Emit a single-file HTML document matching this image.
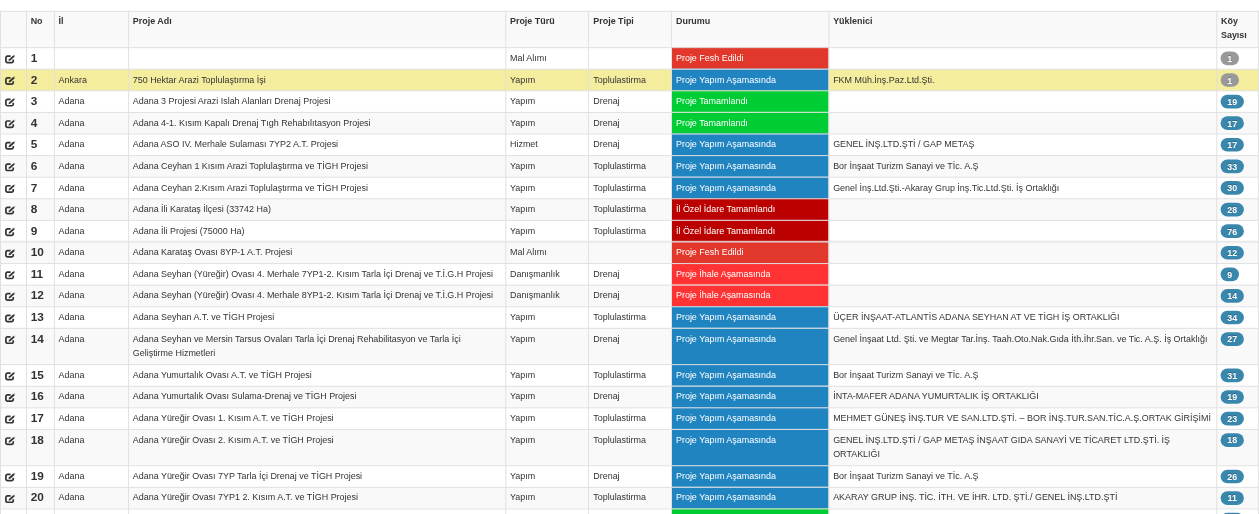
<!DOCTYPE html><html lang="tr"><head><meta charset="utf-8"><title>Projeler</title><style>
html,body{margin:0;padding:0;background:#fff;}
body{font-family:"Liberation Sans",Arial,Helvetica,sans-serif;font-size:8.95px;line-height:14.72px;color:#333;overflow:hidden;width:1259px;height:514px;position:relative;}
svg.grid{position:absolute;left:0;top:0;display:block;}
table{position:absolute;left:0;top:10.830px;width:1257.910px;border-collapse:separate;border-spacing:0;table-layout:fixed;}
td,th{box-sizing:border-box;padding:3.9px 0 0 4.7px;vertical-align:top;text-align:left;white-space:nowrap;overflow:hidden;font-weight:normal;}
th{font-weight:bold;padding-top:2.9px;line-height:14.72px;}
td.no{font-size:11.8px;font-weight:bold;padding-top:3.9px;}
td.e{padding:0;}
td:nth-child(6),th:nth-child(6){padding-left:5.4px;}
td:nth-child(7),th:nth-child(7){padding-left:5.1px;}
td.st{color:#fff;}
.bd{display:block;color:#fff;font-weight:bold;font-size:8.88px;line-height:10.5px;text-align:center;width:18.4px;margin:2.9px 0 0 -0.4px;text-shadow:0 -0.75px 0 rgba(0,0,0,.25);}
.bd.w{width:23.3px;}
.ic{display:block;margin:7.5px 0 0 4.6px;}
</style></head><body>
<svg class="grid" width="1259" height="514" viewBox="0 0 1259 514">
<rect x="0" y="10.830" width="1258.890" height="36.316" fill="#f9f9f9"/>
<rect x="671.890" y="47.145" width="156.560" height="21.593" fill="#e2382b"/>
<rect x="0" y="69.239" width="1258.890" height="21.593" fill="#f5ed9e"/>
<rect x="671.890" y="68.739" width="156.560" height="21.593" fill="#2084c1"/>
<rect x="671.890" y="90.332" width="156.560" height="21.593" fill="#00cc33"/>
<rect x="0" y="111.925" width="1258.890" height="21.593" fill="#f9f9f9"/>
<rect x="671.890" y="111.925" width="156.560" height="21.593" fill="#00cc33"/>
<rect x="671.890" y="133.518" width="156.560" height="21.593" fill="#2084c1"/>
<rect x="0" y="155.111" width="1258.890" height="21.593" fill="#f9f9f9"/>
<rect x="671.890" y="155.111" width="156.560" height="21.593" fill="#2084c1"/>
<rect x="671.890" y="176.704" width="156.560" height="21.593" fill="#2084c1"/>
<rect x="0" y="198.297" width="1258.890" height="21.593" fill="#f9f9f9"/>
<rect x="671.890" y="198.297" width="156.560" height="21.593" fill="#bb0000"/>
<rect x="671.890" y="219.890" width="156.560" height="21.593" fill="#bb0000"/>
<rect x="0" y="241.483" width="1258.890" height="21.593" fill="#f9f9f9"/>
<rect x="671.890" y="241.483" width="156.560" height="21.593" fill="#e2382b"/>
<rect x="671.890" y="263.076" width="156.560" height="21.593" fill="#ff3333"/>
<rect x="0" y="284.668" width="1258.890" height="21.593" fill="#f9f9f9"/>
<rect x="671.890" y="284.668" width="156.560" height="21.593" fill="#ff3333"/>
<rect x="671.890" y="306.262" width="156.560" height="21.593" fill="#2084c1"/>
<rect x="0" y="327.854" width="1258.890" height="36.316" fill="#f9f9f9"/>
<rect x="671.890" y="327.854" width="156.560" height="36.316" fill="#2084c1"/>
<rect x="671.890" y="364.170" width="156.560" height="21.593" fill="#2084c1"/>
<rect x="0" y="385.763" width="1258.890" height="21.593" fill="#f9f9f9"/>
<rect x="671.890" y="385.763" width="156.560" height="21.593" fill="#2084c1"/>
<rect x="671.890" y="407.356" width="156.560" height="21.593" fill="#2084c1"/>
<rect x="0" y="428.949" width="1258.890" height="36.315" fill="#f9f9f9"/>
<rect x="671.890" y="428.949" width="156.560" height="36.315" fill="#2084c1"/>
<rect x="671.890" y="465.264" width="156.560" height="21.593" fill="#2084c1"/>
<rect x="0" y="486.858" width="1258.890" height="21.593" fill="#f9f9f9"/>
<rect x="671.890" y="486.858" width="156.560" height="21.593" fill="#2084c1"/>
<rect x="671.890" y="508.450" width="156.560" height="21.593" fill="#00cc33"/>
<rect x="1220.6" y="51.545" width="18.40" height="13.7" rx="6.85" fill="#999"/>
<rect x="1220.6" y="73.139" width="18.40" height="13.7" rx="6.85" fill="#999"/>
<rect x="1220.6" y="94.732" width="23.30" height="13.7" rx="6.85" fill="#3a87ad"/>
<rect x="1220.6" y="116.325" width="23.30" height="13.7" rx="6.85" fill="#3a87ad"/>
<rect x="1220.6" y="137.918" width="23.30" height="13.7" rx="6.85" fill="#3a87ad"/>
<rect x="1220.6" y="159.511" width="23.30" height="13.7" rx="6.85" fill="#3a87ad"/>
<rect x="1220.6" y="181.104" width="23.30" height="13.7" rx="6.85" fill="#3a87ad"/>
<rect x="1220.6" y="202.697" width="23.30" height="13.7" rx="6.85" fill="#3a87ad"/>
<rect x="1220.6" y="224.290" width="23.30" height="13.7" rx="6.85" fill="#3a87ad"/>
<rect x="1220.6" y="245.883" width="23.30" height="13.7" rx="6.85" fill="#3a87ad"/>
<rect x="1220.6" y="267.476" width="18.40" height="13.7" rx="6.85" fill="#3a87ad"/>
<rect x="1220.6" y="289.068" width="23.30" height="13.7" rx="6.85" fill="#3a87ad"/>
<rect x="1220.6" y="310.661" width="23.30" height="13.7" rx="6.85" fill="#3a87ad"/>
<rect x="1220.6" y="332.254" width="23.30" height="13.7" rx="6.85" fill="#3a87ad"/>
<rect x="1220.6" y="368.570" width="23.30" height="13.7" rx="6.85" fill="#3a87ad"/>
<rect x="1220.6" y="390.163" width="23.30" height="13.7" rx="6.85" fill="#3a87ad"/>
<rect x="1220.6" y="411.756" width="23.30" height="13.7" rx="6.85" fill="#3a87ad"/>
<rect x="1220.6" y="433.349" width="23.30" height="13.7" rx="6.85" fill="#3a87ad"/>
<rect x="1220.6" y="469.664" width="23.30" height="13.7" rx="6.85" fill="#3a87ad"/>
<rect x="1220.6" y="491.257" width="23.30" height="13.7" rx="6.85" fill="#3a87ad"/>
<rect x="1220.6" y="512.851" width="23.30" height="13.7" rx="6.85" fill="#3a87ad"/>
<g transform="translate(4.6 54.745)"><path d="M8.65 4.8V6.2a1.6 1.6 0 0 1-1.6 1.6H2.9a1.6 1.6 0 0 1-1.6-1.6V3.05a1.6 1.6 0 0 1 1.6-1.6H6" fill="none" stroke="#333" stroke-width="1.7"/><path d="M3.95 6.2l.4-1.7 4.5-4 .65.6.65.7-4.5 4z" fill="#333"/><path d="M9.35 .3l.6-.35 .8.85-.35.55z" fill="#333" opacity=".55"/></g>
<g transform="translate(4.6 76.338)"><path d="M8.65 4.8V6.2a1.6 1.6 0 0 1-1.6 1.6H2.9a1.6 1.6 0 0 1-1.6-1.6V3.05a1.6 1.6 0 0 1 1.6-1.6H6" fill="none" stroke="#333" stroke-width="1.7"/><path d="M3.95 6.2l.4-1.7 4.5-4 .65.6.65.7-4.5 4z" fill="#333"/><path d="M9.35 .3l.6-.35 .8.85-.35.55z" fill="#333" opacity=".55"/></g>
<g transform="translate(4.6 97.931)"><path d="M8.65 4.8V6.2a1.6 1.6 0 0 1-1.6 1.6H2.9a1.6 1.6 0 0 1-1.6-1.6V3.05a1.6 1.6 0 0 1 1.6-1.6H6" fill="none" stroke="#333" stroke-width="1.7"/><path d="M3.95 6.2l.4-1.7 4.5-4 .65.6.65.7-4.5 4z" fill="#333"/><path d="M9.35 .3l.6-.35 .8.85-.35.55z" fill="#333" opacity=".55"/></g>
<g transform="translate(4.6 119.525)"><path d="M8.65 4.8V6.2a1.6 1.6 0 0 1-1.6 1.6H2.9a1.6 1.6 0 0 1-1.6-1.6V3.05a1.6 1.6 0 0 1 1.6-1.6H6" fill="none" stroke="#333" stroke-width="1.7"/><path d="M3.95 6.2l.4-1.7 4.5-4 .65.6.65.7-4.5 4z" fill="#333"/><path d="M9.35 .3l.6-.35 .8.85-.35.55z" fill="#333" opacity=".55"/></g>
<g transform="translate(4.6 141.118)"><path d="M8.65 4.8V6.2a1.6 1.6 0 0 1-1.6 1.6H2.9a1.6 1.6 0 0 1-1.6-1.6V3.05a1.6 1.6 0 0 1 1.6-1.6H6" fill="none" stroke="#333" stroke-width="1.7"/><path d="M3.95 6.2l.4-1.7 4.5-4 .65.6.65.7-4.5 4z" fill="#333"/><path d="M9.35 .3l.6-.35 .8.85-.35.55z" fill="#333" opacity=".55"/></g>
<g transform="translate(4.6 162.711)"><path d="M8.65 4.8V6.2a1.6 1.6 0 0 1-1.6 1.6H2.9a1.6 1.6 0 0 1-1.6-1.6V3.05a1.6 1.6 0 0 1 1.6-1.6H6" fill="none" stroke="#333" stroke-width="1.7"/><path d="M3.95 6.2l.4-1.7 4.5-4 .65.6.65.7-4.5 4z" fill="#333"/><path d="M9.35 .3l.6-.35 .8.85-.35.55z" fill="#333" opacity=".55"/></g>
<g transform="translate(4.6 184.304)"><path d="M8.65 4.8V6.2a1.6 1.6 0 0 1-1.6 1.6H2.9a1.6 1.6 0 0 1-1.6-1.6V3.05a1.6 1.6 0 0 1 1.6-1.6H6" fill="none" stroke="#333" stroke-width="1.7"/><path d="M3.95 6.2l.4-1.7 4.5-4 .65.6.65.7-4.5 4z" fill="#333"/><path d="M9.35 .3l.6-.35 .8.85-.35.55z" fill="#333" opacity=".55"/></g>
<g transform="translate(4.6 205.897)"><path d="M8.65 4.8V6.2a1.6 1.6 0 0 1-1.6 1.6H2.9a1.6 1.6 0 0 1-1.6-1.6V3.05a1.6 1.6 0 0 1 1.6-1.6H6" fill="none" stroke="#333" stroke-width="1.7"/><path d="M3.95 6.2l.4-1.7 4.5-4 .65.6.65.7-4.5 4z" fill="#333"/><path d="M9.35 .3l.6-.35 .8.85-.35.55z" fill="#333" opacity=".55"/></g>
<g transform="translate(4.6 227.490)"><path d="M8.65 4.8V6.2a1.6 1.6 0 0 1-1.6 1.6H2.9a1.6 1.6 0 0 1-1.6-1.6V3.05a1.6 1.6 0 0 1 1.6-1.6H6" fill="none" stroke="#333" stroke-width="1.7"/><path d="M3.95 6.2l.4-1.7 4.5-4 .65.6.65.7-4.5 4z" fill="#333"/><path d="M9.35 .3l.6-.35 .8.85-.35.55z" fill="#333" opacity=".55"/></g>
<g transform="translate(4.6 249.083)"><path d="M8.65 4.8V6.2a1.6 1.6 0 0 1-1.6 1.6H2.9a1.6 1.6 0 0 1-1.6-1.6V3.05a1.6 1.6 0 0 1 1.6-1.6H6" fill="none" stroke="#333" stroke-width="1.7"/><path d="M3.95 6.2l.4-1.7 4.5-4 .65.6.65.7-4.5 4z" fill="#333"/><path d="M9.35 .3l.6-.35 .8.85-.35.55z" fill="#333" opacity=".55"/></g>
<g transform="translate(4.6 270.676)"><path d="M8.65 4.8V6.2a1.6 1.6 0 0 1-1.6 1.6H2.9a1.6 1.6 0 0 1-1.6-1.6V3.05a1.6 1.6 0 0 1 1.6-1.6H6" fill="none" stroke="#333" stroke-width="1.7"/><path d="M3.95 6.2l.4-1.7 4.5-4 .65.6.65.7-4.5 4z" fill="#333"/><path d="M9.35 .3l.6-.35 .8.85-.35.55z" fill="#333" opacity=".55"/></g>
<g transform="translate(4.6 292.269)"><path d="M8.65 4.8V6.2a1.6 1.6 0 0 1-1.6 1.6H2.9a1.6 1.6 0 0 1-1.6-1.6V3.05a1.6 1.6 0 0 1 1.6-1.6H6" fill="none" stroke="#333" stroke-width="1.7"/><path d="M3.95 6.2l.4-1.7 4.5-4 .65.6.65.7-4.5 4z" fill="#333"/><path d="M9.35 .3l.6-.35 .8.85-.35.55z" fill="#333" opacity=".55"/></g>
<g transform="translate(4.6 313.862)"><path d="M8.65 4.8V6.2a1.6 1.6 0 0 1-1.6 1.6H2.9a1.6 1.6 0 0 1-1.6-1.6V3.05a1.6 1.6 0 0 1 1.6-1.6H6" fill="none" stroke="#333" stroke-width="1.7"/><path d="M3.95 6.2l.4-1.7 4.5-4 .65.6.65.7-4.5 4z" fill="#333"/><path d="M9.35 .3l.6-.35 .8.85-.35.55z" fill="#333" opacity=".55"/></g>
<g transform="translate(4.6 335.454)"><path d="M8.65 4.8V6.2a1.6 1.6 0 0 1-1.6 1.6H2.9a1.6 1.6 0 0 1-1.6-1.6V3.05a1.6 1.6 0 0 1 1.6-1.6H6" fill="none" stroke="#333" stroke-width="1.7"/><path d="M3.95 6.2l.4-1.7 4.5-4 .65.6.65.7-4.5 4z" fill="#333"/><path d="M9.35 .3l.6-.35 .8.85-.35.55z" fill="#333" opacity=".55"/></g>
<g transform="translate(4.6 371.770)"><path d="M8.65 4.8V6.2a1.6 1.6 0 0 1-1.6 1.6H2.9a1.6 1.6 0 0 1-1.6-1.6V3.05a1.6 1.6 0 0 1 1.6-1.6H6" fill="none" stroke="#333" stroke-width="1.7"/><path d="M3.95 6.2l.4-1.7 4.5-4 .65.6.65.7-4.5 4z" fill="#333"/><path d="M9.35 .3l.6-.35 .8.85-.35.55z" fill="#333" opacity=".55"/></g>
<g transform="translate(4.6 393.363)"><path d="M8.65 4.8V6.2a1.6 1.6 0 0 1-1.6 1.6H2.9a1.6 1.6 0 0 1-1.6-1.6V3.05a1.6 1.6 0 0 1 1.6-1.6H6" fill="none" stroke="#333" stroke-width="1.7"/><path d="M3.95 6.2l.4-1.7 4.5-4 .65.6.65.7-4.5 4z" fill="#333"/><path d="M9.35 .3l.6-.35 .8.85-.35.55z" fill="#333" opacity=".55"/></g>
<g transform="translate(4.6 414.956)"><path d="M8.65 4.8V6.2a1.6 1.6 0 0 1-1.6 1.6H2.9a1.6 1.6 0 0 1-1.6-1.6V3.05a1.6 1.6 0 0 1 1.6-1.6H6" fill="none" stroke="#333" stroke-width="1.7"/><path d="M3.95 6.2l.4-1.7 4.5-4 .65.6.65.7-4.5 4z" fill="#333"/><path d="M9.35 .3l.6-.35 .8.85-.35.55z" fill="#333" opacity=".55"/></g>
<g transform="translate(4.6 436.549)"><path d="M8.65 4.8V6.2a1.6 1.6 0 0 1-1.6 1.6H2.9a1.6 1.6 0 0 1-1.6-1.6V3.05a1.6 1.6 0 0 1 1.6-1.6H6" fill="none" stroke="#333" stroke-width="1.7"/><path d="M3.95 6.2l.4-1.7 4.5-4 .65.6.65.7-4.5 4z" fill="#333"/><path d="M9.35 .3l.6-.35 .8.85-.35.55z" fill="#333" opacity=".55"/></g>
<g transform="translate(4.6 472.865)"><path d="M8.65 4.8V6.2a1.6 1.6 0 0 1-1.6 1.6H2.9a1.6 1.6 0 0 1-1.6-1.6V3.05a1.6 1.6 0 0 1 1.6-1.6H6" fill="none" stroke="#333" stroke-width="1.7"/><path d="M3.95 6.2l.4-1.7 4.5-4 .65.6.65.7-4.5 4z" fill="#333"/><path d="M9.35 .3l.6-.35 .8.85-.35.55z" fill="#333" opacity=".55"/></g>
<g transform="translate(4.6 494.458)"><path d="M8.65 4.8V6.2a1.6 1.6 0 0 1-1.6 1.6H2.9a1.6 1.6 0 0 1-1.6-1.6V3.05a1.6 1.6 0 0 1 1.6-1.6H6" fill="none" stroke="#333" stroke-width="1.7"/><path d="M3.95 6.2l.4-1.7 4.5-4 .65.6.65.7-4.5 4z" fill="#333"/><path d="M9.35 .3l.6-.35 .8.85-.35.55z" fill="#333" opacity=".55"/></g>
<g transform="translate(4.6 516.050)"><path d="M8.65 4.8V6.2a1.6 1.6 0 0 1-1.6 1.6H2.9a1.6 1.6 0 0 1-1.6-1.6V3.05a1.6 1.6 0 0 1 1.6-1.6H6" fill="none" stroke="#333" stroke-width="1.7"/><path d="M3.95 6.2l.4-1.7 4.5-4 .65.6.65.7-4.5 4z" fill="#333"/><path d="M9.35 .3l.6-.35 .8.85-.35.55z" fill="#333" opacity=".55"/></g>
<rect x="0" y="240.783" width="1258.890" height="0.75" fill="#e0e0e0" opacity=".8"/>
<rect x="0" y="10.830" width="1258.890" height="0.98" fill="#e0e0e0"/>
<rect x="0" y="47.145" width="1258.890" height="0.98" fill="#e0e0e0"/>
<rect x="0" y="68.739" width="1258.890" height="0.98" fill="#e0e0e0"/>
<rect x="0" y="90.332" width="1258.890" height="0.98" fill="#e0e0e0"/>
<rect x="0" y="111.925" width="1258.890" height="0.98" fill="#e0e0e0"/>
<rect x="0" y="133.518" width="1258.890" height="0.98" fill="#e0e0e0"/>
<rect x="0" y="155.111" width="1258.890" height="0.98" fill="#e0e0e0"/>
<rect x="0" y="176.704" width="1258.890" height="0.98" fill="#e0e0e0"/>
<rect x="0" y="198.297" width="1258.890" height="0.98" fill="#e0e0e0"/>
<rect x="0" y="219.890" width="1258.890" height="0.98" fill="#e0e0e0"/>
<rect x="0" y="241.483" width="1258.890" height="0.98" fill="#e0e0e0"/>
<rect x="0" y="263.076" width="1258.890" height="0.98" fill="#e0e0e0"/>
<rect x="0" y="284.668" width="1258.890" height="0.98" fill="#e0e0e0"/>
<rect x="0" y="306.262" width="1258.890" height="0.98" fill="#e0e0e0"/>
<rect x="0" y="327.854" width="1258.890" height="0.98" fill="#e0e0e0"/>
<rect x="0" y="364.170" width="1258.890" height="0.98" fill="#e0e0e0"/>
<rect x="0" y="385.763" width="1258.890" height="0.98" fill="#e0e0e0"/>
<rect x="0" y="407.356" width="1258.890" height="0.98" fill="#e0e0e0"/>
<rect x="0" y="428.949" width="1258.890" height="0.98" fill="#e0e0e0"/>
<rect x="0" y="465.264" width="1258.890" height="0.98" fill="#e0e0e0"/>
<rect x="0" y="486.858" width="1258.890" height="0.98" fill="#e0e0e0"/>
<rect x="0" y="508.450" width="1258.890" height="0.98" fill="#e0e0e0"/>
<rect x="0.000" y="10.830" width="0.98" height="503.170" fill="#e0e0e0"/>
<rect x="25.980" y="10.830" width="1.00" height="503.170" fill="#e0e0e0"/>
<rect x="53.910" y="10.830" width="0.98" height="503.170" fill="#e0e0e0"/>
<rect x="128.110" y="10.830" width="0.98" height="503.170" fill="#e0e0e0"/>
<rect x="505.310" y="10.830" width="0.98" height="503.170" fill="#e0e0e0"/>
<rect x="587.910" y="10.830" width="0.98" height="503.170" fill="#e0e0e0"/>
<rect x="670.910" y="10.830" width="0.98" height="503.170" fill="#e0e0e0"/>
<rect x="828.510" y="10.830" width="0.98" height="503.170" fill="#e0e0e0"/>
<rect x="1216.310" y="10.830" width="0.98" height="503.170" fill="#e0e0e0"/>
<rect x="1257.910" y="10.830" width="0.98" height="503.170" fill="#e0e0e0"/>
</svg>
<table><colgroup>
<col style="width:25.980px">
<col style="width:27.930px">
<col style="width:74.200px">
<col style="width:377.200px">
<col style="width:82.600px">
<col style="width:83.000px">
<col style="width:157.600px">
<col style="width:387.800px">
<col style="width:41.600px">
</colgroup><thead><tr style="height:36.316px">
<th></th>
<th>No</th>
<th>İl</th>
<th>Proje Adı</th>
<th>Proje Türü</th>
<th>Proje Tipi</th>
<th>Durumu</th>
<th>Yüklenici</th>
<th>Köy<br>Sayısı</th>
</tr></thead><tbody>
<tr style="height:21.593px"><td class="e"></td><td class="no">1</td><td></td><td></td><td>Mal Alımı</td><td></td><td class="st">Proje Fesh Edildi</td><td></td><td><span class="bd ">1</span></td></tr>
<tr style="height:21.593px"><td class="e"></td><td class="no">2</td><td>Ankara</td><td>750 Hektar Arazi Toplulaştırma İşi</td><td>Yapım</td><td>Toplulastirma</td><td class="st">Proje Yapım Aşamasında</td><td>FKM Müh.İnş.Paz.Ltd.Şti.</td><td><span class="bd ">1</span></td></tr>
<tr style="height:21.593px"><td class="e"></td><td class="no">3</td><td>Adana</td><td>Adana 3 Projesi Arazi Islah Alanları Drenaj Projesi</td><td>Yapım</td><td>Drenaj</td><td class="st">Proje Tamamlandı</td><td></td><td><span class="bd w">19</span></td></tr>
<tr style="height:21.593px"><td class="e"></td><td class="no">4</td><td>Adana</td><td>Adana 4-1. Kısım Kapalı Drenaj Tıgh Rehabılıtasyon Projesi</td><td>Yapım</td><td>Drenaj</td><td class="st">Proje Tamamlandı</td><td></td><td><span class="bd w">17</span></td></tr>
<tr style="height:21.593px"><td class="e"></td><td class="no">5</td><td>Adana</td><td>Adana ASO IV. Merhale Sulaması 7YP2 A.T. Projesi</td><td>Hizmet</td><td>Drenaj</td><td class="st">Proje Yapım Aşamasında</td><td>GENEL İNŞ.LTD.ŞTİ / GAP METAŞ</td><td><span class="bd w">17</span></td></tr>
<tr style="height:21.593px"><td class="e"></td><td class="no">6</td><td>Adana</td><td>Adana Ceyhan 1 Kısım Arazi Toplulaştırma ve TİGH Projesi</td><td>Yapım</td><td>Toplulastirma</td><td class="st">Proje Yapım Aşamasında</td><td>Bor İnşaat Turizm Sanayi ve Tİc. A.Ş</td><td><span class="bd w">33</span></td></tr>
<tr style="height:21.593px"><td class="e"></td><td class="no">7</td><td>Adana</td><td>Adana Ceyhan 2.Kısım Arazi Toplulaştırma ve TİGH Projesi</td><td>Yapım</td><td>Toplulastirma</td><td class="st">Proje Yapım Aşamasında</td><td>Genel İnş.Ltd.Şti.-Akaray Grup İnş.Tic.Ltd.Şti. İş Ortaklığı</td><td><span class="bd w">30</span></td></tr>
<tr style="height:21.593px"><td class="e"></td><td class="no">8</td><td>Adana</td><td>Adana İli Karataş İlçesi (33742 Ha)</td><td>Yapım</td><td>Toplulastirma</td><td class="st">İl Özel İdare Tamamlandı</td><td></td><td><span class="bd w">28</span></td></tr>
<tr style="height:21.593px"><td class="e"></td><td class="no">9</td><td>Adana</td><td>Adana İli Projesi (75000 Ha)</td><td>Yapım</td><td>Toplulastirma</td><td class="st">İl Özel İdare Tamamlandı</td><td></td><td><span class="bd w">76</span></td></tr>
<tr style="height:21.593px"><td class="e"></td><td class="no">10</td><td>Adana</td><td>Adana Karataş Ovası 8YP-1 A.T. Projesi</td><td>Mal Alımı</td><td></td><td class="st">Proje Fesh Edildi</td><td></td><td><span class="bd w">12</span></td></tr>
<tr style="height:21.593px"><td class="e"></td><td class="no">11</td><td>Adana</td><td>Adana Seyhan (Yüreğir) Ovası 4. Merhale 7YP1-2. Kısım Tarla İçi Drenaj ve T.İ.G.H Projesi</td><td>Danışmanlık</td><td>Drenaj</td><td class="st">Proje İhale Aşamasında</td><td></td><td><span class="bd ">9</span></td></tr>
<tr style="height:21.593px"><td class="e"></td><td class="no">12</td><td>Adana</td><td>Adana Seyhan (Yüreğir) Ovası 4. Merhale 8YP1-2. Kısım Tarla İçi Drenaj ve T.İ.G.H Projesi</td><td>Danışmanlık</td><td>Drenaj</td><td class="st">Proje İhale Aşamasında</td><td></td><td><span class="bd w">14</span></td></tr>
<tr style="height:21.593px"><td class="e"></td><td class="no">13</td><td>Adana</td><td>Adana Seyhan A.T. ve TİGH Projesi</td><td>Yapım</td><td>Toplulastirma</td><td class="st">Proje Yapım Aşamasında</td><td>ÜÇER İNŞAAT-ATLANTİS ADANA SEYHAN AT VE TİGH İŞ ORTAKLIĞI</td><td><span class="bd w">34</span></td></tr>
<tr style="height:36.316px"><td class="e"></td><td class="no">14</td><td>Adana</td><td>Adana Seyhan ve Mersin Tarsus Ovaları Tarla İçi Drenaj Rehabilitasyon ve Tarla İçi<br>Geliştirme Hizmetleri</td><td>Yapım</td><td>Drenaj</td><td class="st">Proje Yapım Aşamasında</td><td>Genel İnşaat Ltd. Şti. ve Megtar Tar.İnş. Taah.Oto.Nak.Gıda İth.İhr.San. ve Tic. A.Ş. İş Ortaklığı</td><td><span class="bd w">27</span></td></tr>
<tr style="height:21.593px"><td class="e"></td><td class="no">15</td><td>Adana</td><td>Adana Yumurtalık Ovası A.T. ve TİGH Projesi</td><td>Yapım</td><td>Toplulastirma</td><td class="st">Proje Yapım Aşamasında</td><td>Bor İnşaat Turizm Sanayi ve Tİc. A.Ş</td><td><span class="bd w">31</span></td></tr>
<tr style="height:21.593px"><td class="e"></td><td class="no">16</td><td>Adana</td><td>Adana Yumurtalık Ovası Sulama-Drenaj ve TİGH Projesi</td><td>Yapım</td><td>Drenaj</td><td class="st">Proje Yapım Aşamasında</td><td>İNTA-MAFER ADANA YUMURTALIK İŞ ORTAKLIĞI</td><td><span class="bd w">19</span></td></tr>
<tr style="height:21.593px"><td class="e"></td><td class="no">17</td><td>Adana</td><td>Adana Yüreğir Ovası 1. Kısım A.T. ve TİGH Projesi</td><td>Yapım</td><td>Toplulastirma</td><td class="st">Proje Yapım Aşamasında</td><td>MEHMET GÜNEŞ İNŞ.TUR VE SAN.LTD.ŞTİ. – BOR İNŞ.TUR.SAN.TİC.A.Ş.ORTAK GİRİŞİMİ</td><td><span class="bd w">23</span></td></tr>
<tr style="height:36.315px"><td class="e"></td><td class="no">18</td><td>Adana</td><td>Adana Yüreğir Ovası 2. Kısım A.T. ve TİGH Projesi</td><td>Yapım</td><td>Toplulastirma</td><td class="st">Proje Yapım Aşamasında</td><td>GENEL İNŞ.LTD.ŞTİ / GAP METAŞ İNŞAAT GIDA SANAYİ VE TİCARET LTD.ŞTİ. İŞ<br>ORTAKLIĞI</td><td><span class="bd w">18</span></td></tr>
<tr style="height:21.593px"><td class="e"></td><td class="no">19</td><td>Adana</td><td>Adana Yüreğir Ovası 7YP Tarla İçi Drenaj ve TİGH Projesi</td><td>Yapım</td><td>Drenaj</td><td class="st">Proje Yapım Aşamasında</td><td>Bor İnşaat Turizm Sanayi ve Tİc. A.Ş</td><td><span class="bd w">26</span></td></tr>
<tr style="height:21.593px"><td class="e"></td><td class="no">20</td><td>Adana</td><td>Adana Yüreğir Ovası 7YP1 2. Kısım A.T. ve TİGH Projesi</td><td>Yapım</td><td>Toplulastirma</td><td class="st">Proje Yapım Aşamasında</td><td>AKARAY GRUP İNŞ. TİC. İTH. VE İHR. LTD. ŞTİ./ GENEL İNŞ.LTD.ŞTİ</td><td><span class="bd w">11</span></td></tr>
<tr style="height:21.593px"><td class="e"></td><td class="no">21</td><td>Adana</td><td>Adana Yüreğir Ovası 8YP A.T. ve TİGH Projesi</td><td>Yapım</td><td>Toplulastirma</td><td class="st">Proje Tamamlandı</td><td></td><td><span class="bd w">15</span></td></tr>
</tbody></table></body></html>
